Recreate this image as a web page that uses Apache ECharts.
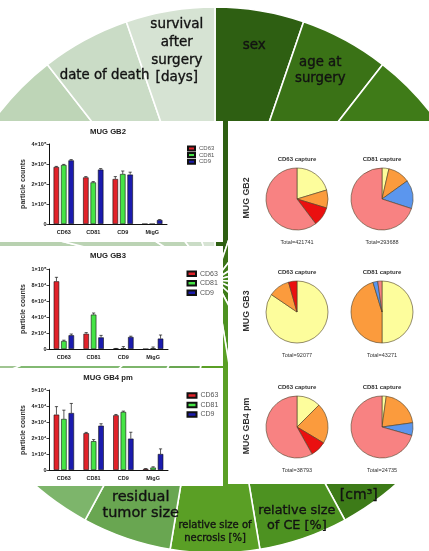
<!DOCTYPE html>
<html><head><meta charset="utf-8">
<script src="https://cdn.jsdelivr.net/npm/echarts@6/dist/echarts.min.js"></script>
<style>html,body{margin:0;padding:0;background:#fff}#c{width:429px;height:551px}</style>
</head><body><div id="c"></div>
<script>
// ================= DATA =================
// background wheel: 19 equal wedges, clockwise from 12 o'clock
const wedgeNames = ['sex','age at surgery','w3','w4','w5','w6','w7','tumor volume [cm³]','relative size of CE [%]','relative size of necrosis [%]','residual tumor size','w12','w13','w14','w15','w16','w17','date of death','survival after surgery [days]'];
const wedgeShares = [1,1,1,1,1,1,1,1,1,1,1,1,1,1,1,1,1,1,1];
const wedgeLabelText = ['sex','age at\nsurgery','','','','','','tumor\nvolume\n[cm³]','relative size\nof CE [%]','relative size of\nnecrosis [%]','residual\ntumor size','','','','','','','date of death','survival\nafter\nsurgery\n[days]'];

// bar charts
const barCategories = ['CD63','CD81','CD9','MigG'];
const markerNames = ['CD63','CD81','CD9'];

const gb2CD63 = [285000, 233000, 225000, 0];
const gb2CD81 = [295000, 208000, 250000, 0];
const gb2CD9  = [318000, 272000, 247000, 20000];
const gb2CD63Err = [3000, 4000, 12000, 0];
const gb2CD81Err = [3000, 4000, 15000, 0];
const gb2CD9Err  = [4000, 5000, 12000, 2000];
const gb2YTicks = ['0','1×10⁵','2×10⁵','3×10⁵','4×10⁵'];

const gb3CD63 = [84600, 19000, 500, 0];
const gb3CD81 = [10000, 43000, 1000, 1000];
const gb3CD9  = [17200, 14500, 15000, 13000];
const gb3CD63Err = [5000, 1500, 200, 0];
const gb3CD81Err = [1000, 2000, 2000, 1500];
const gb3CD9Err  = [1500, 2500, 1000, 4500];
const gb3YTicks = ['0','2×10⁴','4×10⁴','6×10⁴','8×10⁴','1×10⁵'];

const gb4CD63 = [34600, 23000, 34200, 700];
const gb4CD81 = [31900, 18000, 36300, 1500];
const gb4CD9  = [35600, 27700, 19600, 10000];
const gb4CD63Err = [5000, 500, 500, 200];
const gb4CD81Err = [5500, 1000, 500, 500];
const gb4CD9Err  = [6000, 1200, 4000, 3200];
const gb4YTicks = ['0','1×10⁴','2×10⁴','3×10⁴','4×10⁴','5×10⁴'];

// pie charts (slice shares in %, clockwise from 12 o'clock)
const pieRowLabels = ['MUG GB2','MUG GB3','MUG GB4 pm'];
const pieCaptureTitles = ['CD63 capture','CD81 capture'];
const gb2CD63CaptureKinds = ['yellow','orange','red','salmon'];
const gb2CD63CaptureShares = [20.3, 9.4, 10.0, 60.3];
const gb2CD81CaptureKinds = ['yellow','orange','blue','salmon'];
const gb2CD81CaptureShares = [3.6, 11.5, 14.9, 70.0];
const gb3CD63CaptureKinds = ['yellow','orange','red'];
const gb3CD63CaptureShares = [84.5, 11.1, 4.4];
const gb3CD81CaptureKinds = ['yellow','orange','blue','salmon'];
const gb3CD81CaptureShares = [50.0, 45.3, 2.5, 2.2];
const gb4CD63CaptureKinds = ['yellow','orange','red','salmon'];
const gb4CD63CaptureShares = [12.5, 21.1, 8.3, 58.1];
const gb4CD81CaptureKinds = ['yellow','orange','blue','salmon'];
const gb4CD81CaptureShares = [2.2, 20.6, 6.6, 70.6];
const pieTotals = [[421741, 293688], [92077, 43271], [38793, 24735]];

// ================= STYLE =================
const FONT = 'Liberation Sans, Arial, sans-serif';
const WFONT = 'DejaVu Sans, Verdana, sans-serif';
const wedgeColors = ['#2e5f12','#3a7216','#3f7b18','#42811a','#44861c','#42841b','#3f7e19','#3d7b18','#4d9221','#5a9f25','#69a651','#7db56b','#82b972','#a0c592','#b8d1b0','#bbd3b4','#bed5b7','#cadcc6','#d6e3d3'];
const wedgeLabelStyle = {
  0:{fontSize:13.5, lineHeight:17},
  1:{fontSize:13.3, lineHeight:16.7, padding:[0,16,0,0]},
  7:{fontSize:14, lineHeight:16, padding:[0,22,0,0]},
  8:{fontSize:12.8, lineHeight:15},
  9:{fontSize:10, lineHeight:12.3},
  10:{fontSize:14.5, lineHeight:16, padding:[0,0,0,6]},
  17:{fontSize:13.3, lineHeight:16},
  18:{fontSize:13.5, lineHeight:17.7}
};
const ringOf = {0:'A', 1:'A', 10:'A', 17:'B', 18:'B', 7:'C', 8:'C', 9:'C'};
const markerColors = ['#e1222a','#45e445','#1b1bae'];
const sliceColors = {yellow:'#fdfd9c', orange:'#fb9b3d', red:'#ea1010', blue:'#5b96ee', salmon:'#f88282'};
const CX = 215, CY = 280, R = 273;

// ================= BUILD =================
const series = [];
series.push({
  type:'pie', zlevel:0, z:1, silent:true, center:[CX,CY], radius:[0,R], startAngle:90, clockwise:true,
  label:{show:false}, labelLine:{show:false}, itemStyle:{borderColor:'#ffffff', borderWidth:1.6},
  data: wedgeShares.map((v,i)=>({value:v, name:wedgeNames[i], itemStyle:{color:wedgeColors[i]}}))
});
function labelRing(r0, ring){
  return {
    type:'pie', zlevel:0, z:2, silent:true, center:[CX,CY], radius:[r0,R], startAngle:90, clockwise:true,
    avoidLabelOverlap:false, labelLayout:{hideOverlap:false}, labelLine:{show:false}, itemStyle:{color:'rgba(0,0,0,0)', borderWidth:0},
    data: wedgeShares.map((v,i)=>{
      const on = wedgeLabelText[i] !== '' && ringOf[i] === ring;
      return {value:v, name:wedgeNames[i]+' label', label: on ? Object.assign({show:true, position:'inside', formatter:wedgeLabelText[i], color:'#121212', textBorderColor:'#121212', textBorderWidth:0.35, fontFamily:WFONT, align:'center'}, wedgeLabelStyle[i]) : {show:false}};
    })
  };
}
series.push(labelRing(197, 'A'));
series.push(labelRing(185, 'B'));
series.push(labelRing(225, 'C'));

const panels = [
  {vals:[gb2CD63,gb2CD81,gb2CD9], errs:[gb2CD63Err,gb2CD81Err,gb2CD9Err], ticks:gb2YTicks, max:400000, interval:100000},
  {vals:[gb3CD63,gb3CD81,gb3CD9], errs:[gb3CD63Err,gb3CD81Err,gb3CD9Err], ticks:gb3YTicks, max:100000, interval:20000},
  {vals:[gb4CD63,gb4CD81,gb4CD9], errs:[gb4CD63Err,gb4CD81Err,gb4CD9Err], ticks:gb4YTicks, max:50000, interval:10000}
];
const grids = [
  {left:49, top:144, width:118, height:80},
  {left:49, top:269, width:119, height:80},
  {left:49, top:390, width:119, height:80}
];
const BW = 5.5, GAP = 0.35;
const xAxes = [], yAxes = [];
panels.forEach((p, pi)=>{
  xAxes.push({gridIndex:pi, type:'category', data:barCategories, zlevel:1,
    axisLine:{lineStyle:{color:'#111', width:1}}, axisTick:{alignWithLabel:true, length:2.5, lineStyle:{color:'#111', width:0.8}},
    axisLabel:{fontSize:5.5, fontWeight:'bold', color:'#222', margin:5, fontFamily:FONT, interval:0}});
  yAxes.push({gridIndex:pi, type:'value', min:0, max:p.max, interval:p.interval, zlevel:1,
    name:'particle counts', nameLocation:'middle', nameGap:22, nameTextStyle:{fontSize:7, fontWeight:'bold', color:'#333', fontFamily:FONT},
    axisLine:{show:true, lineStyle:{color:'#111', width:1}}, axisTick:{show:true, length:2.5, lineStyle:{color:'#111', width:0.8}},
    splitLine:{show:false},
    axisLabel:{fontSize:5.5, fontWeight:'bold', color:'#222', margin:2.5, fontFamily:FONT, formatter:v=>p.ticks[Math.round(v/p.interval)]}});
  p.vals.forEach((arr, mi)=>{
    series.push({type:'bar', name:markerNames[mi], xAxisIndex:pi, yAxisIndex:pi, zlevel:1, z:2, data:arr,
      barWidth:BW, barGap:(GAP*100)+'%', itemStyle:{color:markerColors[mi], borderColor:'#111', borderWidth:0.6}});
  });
  p.vals.forEach((arr, mi)=>{
    const off = (mi-1)*BW*(1+GAP);
    series.push({type:'custom', name:markerNames[mi]+' SD', xAxisIndex:pi, yAxisIndex:pi, zlevel:1, z:3, silent:true,
      data: arr.map((v,i)=>[i, v, p.errs[mi][i]]), encode:{x:0, y:1},
      renderItem:(params, api)=>{
        const e = api.value(2);
        if (!e) return null;
        const b = api.coord([api.value(0), api.value(1)]);
        const t = api.coord([api.value(0), api.value(1)+e]);
        const x = b[0]+off;
        return {type:'group', children:[
          {type:'line', shape:{x1:x, y1:b[1], x2:x, y2:t[1]}, style:{stroke:'#111', lineWidth:0.7}},
          {type:'line', shape:{x1:x-1.6, y1:t[1], x2:x+1.6, y2:t[1]}, style:{stroke:'#111', lineWidth:0.7}}
        ]};
      }});
  });
});

// capture pies
const pieSets = [
  [[gb2CD63CaptureKinds, gb2CD63CaptureShares],[gb2CD81CaptureKinds, gb2CD81CaptureShares]],
  [[gb3CD63CaptureKinds, gb3CD63CaptureShares],[gb3CD81CaptureKinds, gb3CD81CaptureShares]],
  [[gb4CD63CaptureKinds, gb4CD63CaptureShares],[gb4CD81CaptureKinds, gb4CD81CaptureShares]]
];
const pieRowY = [199, 312, 427];
const pieColX = [297, 382];
const graphics = [];
pieSets.forEach((row, ri)=>{
  row.forEach((pair, ci)=>{
    series.push({type:'pie', zlevel:1, silent:true, center:[pieColX[ci], pieRowY[ri]], radius:[0,31], startAngle:90, clockwise:true,
      label:{show:false}, labelLine:{show:false}, itemStyle:{borderColor:'#4d4027', borderWidth:0.6},
      data: pair[1].map((v,k)=>({value:v, name:pair[0][k], itemStyle:{color:sliceColors[pair[0][k]]}}))});
    graphics.push({type:'text', zlevel:1, z:5, x:pieColX[ci], y:pieRowY[ri]-40, silent:true,
      style:{text:pieCaptureTitles[ci], align:'center', verticalAlign:'middle', font:'bold 6px '+FONT, fill:'#333'}});
    graphics.push({type:'text', zlevel:1, z:5, x:pieColX[ci], y:pieRowY[ri]+43.5, silent:true,
      style:{text:'Total='+pieTotals[ri][ci], align:'center', verticalAlign:'middle', font:'5.5px '+FONT, fill:'#333'}});
  });
  graphics.push({type:'text', zlevel:1, z:5, x:246.5, y:pieRowY[ri]-1, rotation:Math.PI/2, silent:true,
    style:{text:pieRowLabels[ri], align:'center', verticalAlign:'middle', font:'bold 8.8px '+FONT, fill:'#333'}});
});

// panel titles
const barTitles = ['MUG GB2','MUG GB3','MUG GB4 pm'];
const barTitleY = [132, 255.7, 377.7];
barTitles.forEach((t, i)=>{
  graphics.push({type:'text', zlevel:1, z:5, x:108, y:barTitleY[i], silent:true,
    style:{text:t, align:'center', verticalAlign:'middle', font:'bold 7.7px '+FONT, fill:'#222'}});
});

// white panels over the wheel
const panelRects = [
  [0,121,223,121],[0,246,223,120],[0,368,223,118],[228,121,201,363]
];
panelRects.forEach(r=>{
  graphics.push({type:'rect', zlevel:0, z:10, silent:true, shape:{x:r[0], y:r[1], width:r[2], height:r[3]}, style:{fill:'#ffffff'}});
});

const legends = [
  {top:145.5, left:187, itemWidth:7, itemHeight:4, itemGap:0.6, fontSize:6},
  {top:270.3, left:186.5, itemWidth:8.5, itemHeight:4.5, itemGap:2.5, fontSize:7},
  {top:392, left:186.5, itemWidth:9, itemHeight:4.5, itemGap:2.5, fontSize:7}
].map(l=>({zlevel:1, orient:'vertical', left:l.left, top:l.top, padding:0, itemWidth:l.itemWidth, itemHeight:l.itemHeight, itemGap:l.itemGap,
  icon:'rect', data:markerNames, selectedMode:false, textStyle:{fontSize:l.fontSize, color:'#555', fontFamily:FONT, padding:[0,0,0,-1]}}));

const chart = echarts.init(document.getElementById('c'), null, {renderer:'canvas'});
chart.setOption({
  animation:false,
  backgroundColor:'#ffffff',
  grid:grids, xAxis:xAxes, yAxis:yAxes, legend:legends,
  graphic:{elements:graphics},
  series:series
});
</script></body></html>
